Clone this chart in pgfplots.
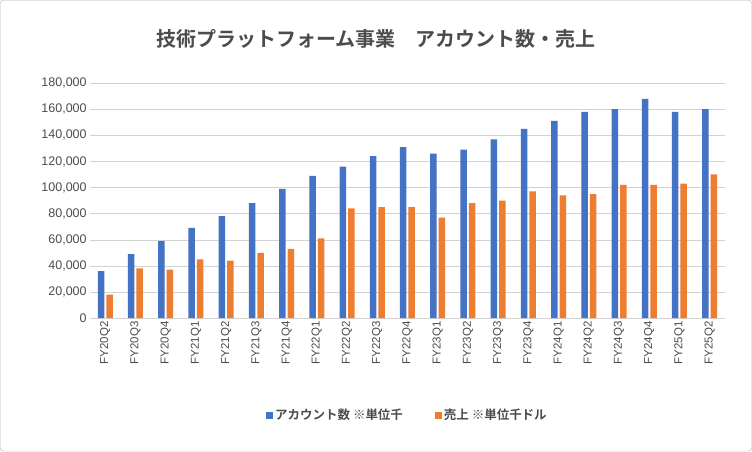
\documentclass[border=0pt]{standalone}
\usepackage{pgfplots}
\pgfplotsset{compat=1.18}
\usepackage{fontspec}
\setmainfont{Liberation Sans}
\newfontfamily\cjk{Noto Sans CJK JP}
\newfontfamily\cjkb{Noto Sans CJK JP Bold}
\definecolor{b}{HTML}{4472C4}
\definecolor{o}{HTML}{ED7D31}
\begin{document}
\begin{tikzpicture}
\draw[gray!60,rounded corners=3pt,fill=white] (0,0) rectangle (752pt,451pt);
\node[font=\cjkb\fontsize{20}{24}\selectfont,text=black!70] at (376pt,412pt) {技術プラットフォーム事業\quad アカウント数・売上};
\begin{axis}[at={(90pt,133pt)},anchor=south west,width=635pt,height=235pt,scale only axis,
 ybar,bar width=6.5pt,ymin=0,ymax=180000,ytick={0,20000,...,180000},
 xmin=-0.5,xmax=20.5,xtick=data,
 xticklabels={FY20Q2,FY20Q3,FY20Q4,FY21Q1,FY21Q2,FY21Q3,FY21Q4,FY22Q1,FY22Q2,FY22Q3,FY22Q4,FY23Q1,FY23Q2,FY23Q3,FY23Q4,FY24Q1,FY24Q2,FY24Q3,FY24Q4,FY25Q1,FY25Q2},
 x tick label style={rotate=90,anchor=east,font=\fontsize{11.5}{12}\selectfont,text=black!70},
 y tick label style={font=\fontsize{12.5}{13}\selectfont,text=black!70},
 /pgf/number format/assume math mode=true,
 scaled y ticks=false,yticklabel style={/pgf/number format/.cd,fixed,1000 sep={,}},
 axis line style={draw=none},major tick length=0pt,
 ymajorgrids,grid style={gray!35},axis x line*=bottom,
 legend style={at={(0.5,-0.37)},anchor=north,draw=none,legend columns=2,font=\cjkb\fontsize{12.5}{14}\selectfont,text=black!70,/tikz/every even column/.append style={column sep=30pt}},
 legend image code/.code={\fill[#1] (0,-3.5pt) rectangle (7pt,3.5pt);}]
\addplot[fill=b,draw=none] coordinates {(0,36000)(1,49000)(2,59000)(3,69000)(4,78000)(5,88000)(6,99000)(7,109000)(8,116000)(9,124000)(10,131000)(11,126000)(12,129000)(13,137000)(14,145000)(15,151000)(16,158000)(17,160000)(18,168000)(19,158000)(20,160000)};
\addplot[fill=o,draw=none] coordinates {(0,18000)(1,38000)(2,37000)(3,45000)(4,44000)(5,50000)(6,53000)(7,61000)(8,84000)(9,85000)(10,85000)(11,77000)(12,88000)(13,90000)(14,97000)(15,94000)(16,95000)(17,102000)(18,102000)(19,103000)(20,110000)};
\legend{アカウント数 ※単位千,売上 ※単位千ドル}
\end{axis}
\end{tikzpicture}
\end{document}
